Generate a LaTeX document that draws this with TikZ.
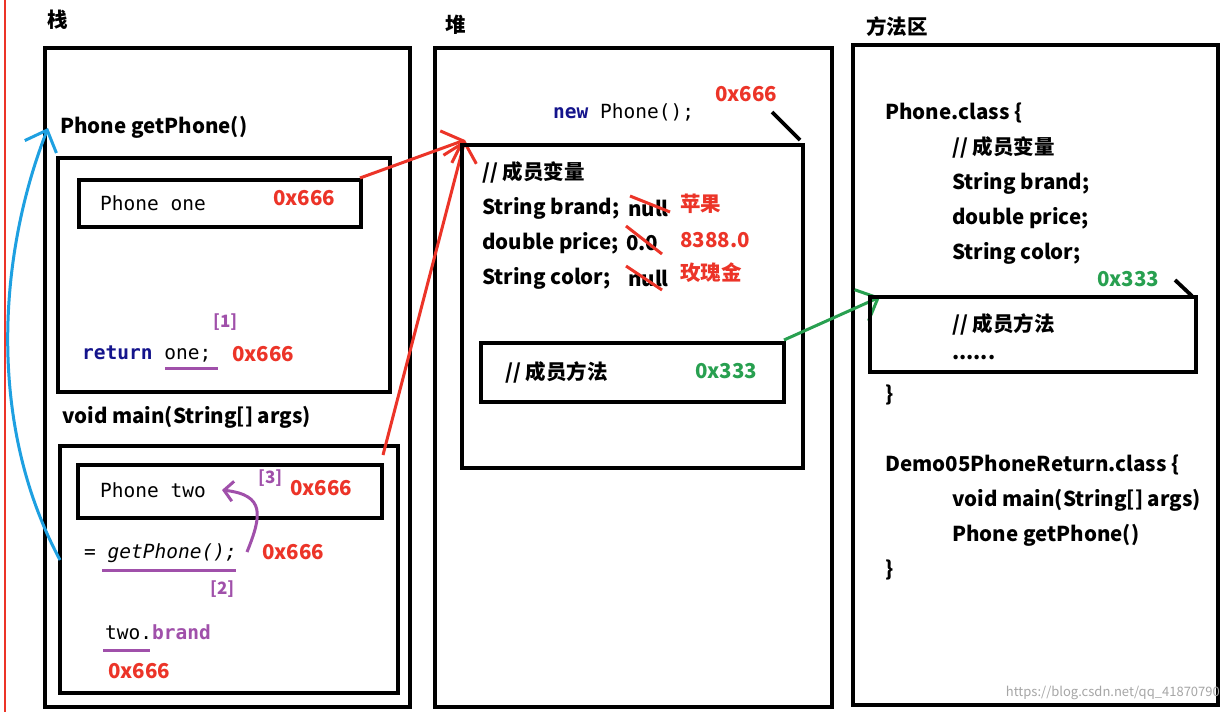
\documentclass[tikz,border=0pt]{standalone}
\usepackage{fontspec}
\setmainfont{Noto Sans CJK SC}
\newfontfamily\codefont{DejaVu Sans Mono}
\usetikzlibrary{arrows.meta}
\definecolor{cred}{RGB}{236,52,40}
\definecolor{cpur}{RGB}{160,80,170}
\definecolor{cblue}{RGB}{30,160,225}
\definecolor{cgreen}{RGB}{40,160,80}
\definecolor{cnavy}{RGB}{20,20,140}
\tikzset{
 lbl/.style={anchor=west,inner sep=0pt,font=\bfseries\fontsize{20.5}{23}\selectfont},
 code/.style={anchor=west,inner sep=0pt,font=\codefont\fontsize{19.5}{22}\selectfont},
 addr/.style={lbl,text=cred},
 pmark/.style={lbl,text=cpur,font=\bfseries\fontsize{17}{19}\selectfont},
 box/.style={draw,line width=3.8pt},
 barb/.style={-{Straight Barb[length=18pt,width=34pt]},line width=3pt},
}
\begin{document}
\begin{tikzpicture}[x=1pt,y=-1pt]
\useasboundingbox (0,0) rectangle (1223,712);
\fill[white] (0,0) rectangle (1223,712);
\draw[cred,line width=2.5pt] (5,0) -- (5,712);
% titles
\node[lbl] (t1) at (47,20) {栈};
\node[lbl] (t2) at (445,25) {堆};
\node[lbl] (t3) at (866,27) {方法区};
% outer boxes
\draw[box] (45,48) rectangle (410,707);
\draw[box] (435,48) rectangle (832,707);
\draw[box] (853,45) rectangle (1218,705);
% stack
\node[lbl] (gp) at (60,127) {Phone getPhone()};
\draw[box] (58,158) rectangle (390,392);
\draw[box] (79,180) rectangle (361,227);
\node[code] (one) at (100,203) {Phone one};
\node[addr] (a1) at (273,198) {0x666};
\node[pmark] (m1) at (213,322) {[1]};
\node[code] (ret) at (82,354) {\textcolor{cnavy}{\bfseries return} one;};
\draw[cpur,line width=3pt] (165,368) -- (218,368);
\node[addr] (a2) at (232,354) {0x666};
\node[lbl] (vm) at (62,417) {void main(String[] args)};
\draw[box] (60,446) rectangle (398,693);
\draw[box] (78,465) rectangle (382,518);
\node[code] (two) at (100,490) {Phone two};
\node[pmark] (m3) at (258,478) {[3]};
\node[addr] (a3) at (290,488) {0x666};
\node[code] (call) at (84,553) {= \itshape getPhone();};
\draw[cpur,line width=3pt] (102,570) -- (236,570);
\node[addr] (a4) at (262,552) {0x666};
\node[pmark] (m2) at (210,589) {[2]};
\node[code] (tb) at (105,632) {two.\textcolor{cpur}{\bfseries brand}};
\draw[cpur,line width=3pt] (103,650) -- (150,650);
\node[addr] (a5) at (108,671) {0x666};
\coordinate (pc1) at (247,552);
\coordinate (pc2) at (222,490);
\draw[cpur,line width=3pt,-{Straight Barb[length=9pt,width=20pt]}] (pc1) .. controls (262,515) and (265,495) .. (pc2);
% blue arrow
\coordinate (b1) at (60,560);
\coordinate (b2) at (48,128);
\draw[cblue,barb] (b1) .. controls (-15,420) and (0,250) .. (b2);
% red arrows
\coordinate (r0) at (465,140);
\coordinate (r1) at (360,178);
\coordinate (r2) at (383,455);
\draw[cred,barb] (r1) -- (r0);
\draw[cred,barb] (r2) -- (r0);
% heap
\node[code] (np) at (553,112) {\textcolor{cnavy}{\bfseries new} Phone();};
\node[addr] (a6) at (715,94) {0x666};
\draw[line width=3.8pt] (772,112) -- (800,140);
\draw[box] (462,145) rectangle (803,468);
\node[lbl] (hv) at (482,172) {// 成员变量};
\node[lbl] (h1) at (482,208) {String brand;};
\node[lbl] (h2) at (482,243) {double price;};
\node[lbl] (h3) at (482,278) {String color;};
\node[lbl] (n1) at (628,208) {null};
\node[lbl] (n2) at (626,243) {0.0};
\node[lbl] (n3) at (628,278) {null};
\draw[cred,line width=3pt] (630,196) -- (670,212);
\draw[cred,line width=3pt] (626,226) -- (662,254);
\draw[cred,line width=3pt] (626,266) -- (662,290);
\node[addr] (v1) at (680,204) {苹果};
\node[addr] (v2) at (680,240) {8388.0};
\node[addr] (v3) at (680,273) {玫瑰金};
\draw[box] (481,343) rectangle (784,402);
\node[lbl] (hm) at (505,372) {// 成员方法};
\node[lbl,text=cgreen] (a7) at (695,371) {0x333};
% green arrow
\coordinate (g1) at (784,340);
\coordinate (g2) at (880,297);
\draw[cgreen,barb] (g1) -- (g2);
% method area
\node[lbl] (pc) at (885,113) {Phone.class \{};
\node[lbl] (c1) at (952,147) {// 成员变量};
\node[lbl] (c2) at (952,183) {String brand;};
\node[lbl] (c3) at (952,218) {double price;};
\node[lbl] (c4) at (952,253) {String color;};
\node[lbl,text=cgreen] (a8) at (1097,279) {0x333};
\draw[line width=3.8pt] (1175,280) -- (1192,296);
\draw[box] (870,297) rectangle (1196,372);
\node[lbl] (c5) at (952,324) {// 成员方法};
\node[lbl] (c6) at (952,358) {......};
\node[lbl] (c7) at (885,395) {\}};
\node[lbl] (dc) at (885,465) {Demo05PhoneReturn.class \{};
\node[lbl] (d1) at (952,500) {void main(String[] args)};
\node[lbl] (d2) at (952,535) {Phone getPhone()};
\node[lbl] (d3) at (885,570) {\}};
\node[anchor=east,inner sep=0pt,text=black!35,font=\fontsize{13}{15}\selectfont] (wm) at (1220,693) {https://blog.csdn.net/qq\_41870790};
\end{tikzpicture}
\end{document}
